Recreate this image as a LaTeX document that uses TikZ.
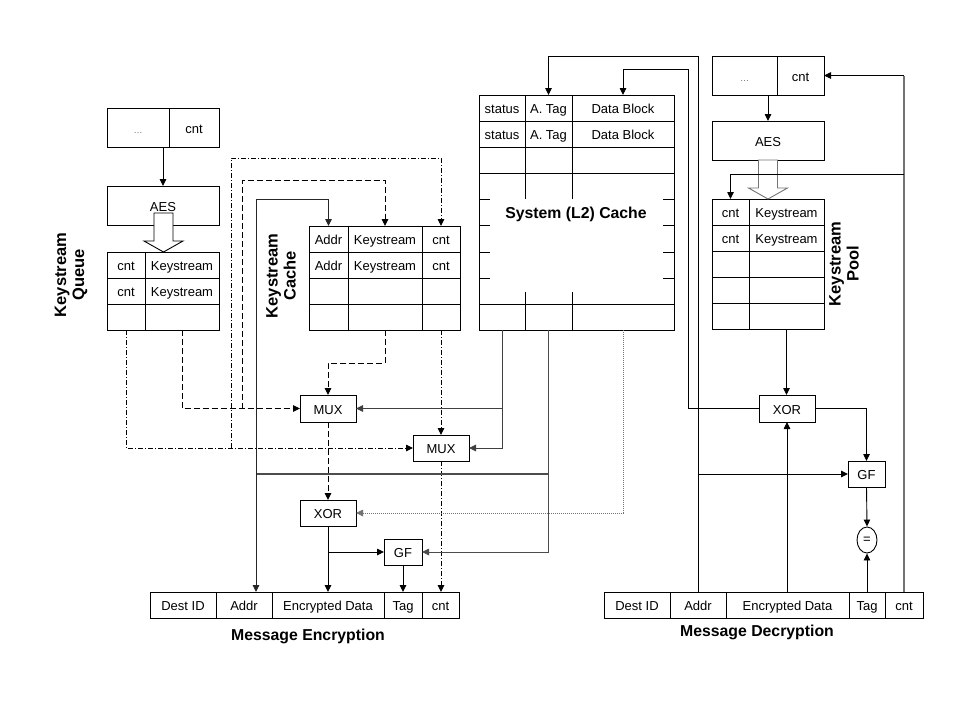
\documentclass[tikz,border=0pt]{standalone}
\usepackage{fontspec}
\setmainfont{Liberation Sans}
\usetikzlibrary{positioning,calc,arrows.meta,shapes.geometric}

\newcommand{\cellfont}{\fontsize{13}{15}\selectfont}
\newcommand{\headfont}{\fontsize{15.8}{19}\selectfont\bfseries}
\newcommand{\dotsfont}{\fontsize{9}{11}\selectfont\color{black!60}}
% hollow arrow from a point inside the source box to the tip
\newcommand{\fatarrow}[3][black]{%
  \draw[#1, fill=white] ($(#2)+(-9.5,0)$) -- ($(#3)+(-9.5,-11)$) -- ($(#3)+(-19.5,-11)$)
    -- (#3) -- ($(#3)+(19.5,-11)$) -- ($(#3)+(9.5,-11)$) -- ($(#2)+(9.5,0)$) -- cycle;}

\tikzset{
  cell/.style={rectangle, draw, anchor=north west, minimum height=26pt, inner sep=0pt, outer sep=0pt, font=\cellfont, text height=11pt, text depth=0pt},
  opbox/.style={rectangle, draw, minimum width=56pt, minimum height=26pt, inner sep=0pt, outer sep=0pt, font=\cellfont, text height=11pt, text depth=0pt},
  connect/.style={-{Triangle[length=7pt,width=6.5pt]}},
  keyline/.style={dash pattern=on 6pt off 3pt},
  cntline/.style={dash pattern=on 5pt off 2pt on 1pt off 2pt},
  dataline/.style={draw=black!55, dash pattern=on 1pt off 1pt},
  busline/.style={draw=black!75, line width=1pt},
  addrline/.style={draw=black!70, line width=1.6pt},
  cntback/.style={draw=black!55, line width=1.6pt},
  titletext/.style={font=\headfont, align=center, inner sep=0pt},
  sidetext/.style={font=\fontsize{16.5}{18}\selectfont\bfseries, align=center, inner sep=0pt, rotate=90}
}

\begin{document}
\begin{tikzpicture}[x=1pt, y=-1pt, line width=0.9pt]
  \useasboundingbox (0,0) rectangle (960,720);

  % Keystream queue: counter, AES and queue table
  \node[cell, minimum width=62pt, minimum height=39pt] (qdots) at (107,108) {\dotsfont\ldots};
  \node[cell, minimum width=50pt, minimum height=39pt] (qcnt) at (169,108) {cnt};
  \node[opbox, minimum width=112pt, minimum height=39pt] (aesq) at (163,205.5) {AES};
  \foreach \r/\y/\a/\b in {1/252/cnt/Keystream, 2/278/cnt/Keystream, 3/304/{}/{}} {
    \node[cell, minimum width=38pt] (qc\r) at (107,\y) {\a};
    \node[cell, minimum width=74pt] (qk\r) at (145,\y) {\b};
  }
  \node[sidetext] (qlabel) at (71,275) {Keystream\\Queue};

  % Keystream cache
  \foreach \r/\y/\a/\b/\c in {1/226/Addr/Keystream/cnt, 2/252/Addr/Keystream/cnt, 3/278/{}/{}/{}, 4/304/{}/{}/{}} {
    \node[cell, minimum width=39pt] (ca\r) at (309,\y) {\a};
    \node[cell, minimum width=74pt] (ck\r) at (348,\y) {\b};
    \node[cell, minimum width=38pt] (cc\r) at (422,\y) {\c};
  }
  \node[sidetext] (clabel) at (281,276) {Keystream\\Cache};

  % System (L2) cache
  \node[draw, anchor=north west, minimum width=195pt, minimum height=235pt, inner sep=0pt, outer sep=0pt] (l2) at (479,95) {};
  \foreach \r/\y/\a/\b/\c in {1/95/status/A. Tag/Data Block, 2/121/status/A. Tag/Data Block, 3/147/{}/{}/{}, 4/304/{}/{}/{}} {
    \node[cell, minimum width=46pt] (ls\r) at (479,\y) {\a};
    \node[cell, minimum width=47pt] (la\r) at (525,\y) {\b};
    \node[cell, minimum width=102pt] (lb\r) at (572,\y) {\c};
  }
  \foreach \x in {525,572} {
    \draw (\x,173) -- (\x,199);
    \draw (\x,292) -- (\x,304);
  }
  \foreach \y in {199,225,252,278} {
    \draw (479,\y) -- (490,\y);
    \draw (663,\y) -- (674,\y);
  }
  \node[titletext] (l2title) at (576,214) {System (L2) Cache};

  % Keystream pool: counter, AES and pool table
  \node[cell, minimum width=65pt, minimum height=39pt] (pdots) at (712,56) {\dotsfont\ldots};
  \node[cell, minimum width=47pt, minimum height=39pt] (pcnt) at (777,56) {cnt};
  \node[opbox, minimum width=112pt, minimum height=39pt] (aesp) at (768,140.5) {AES};
  \foreach \r/\y/\a/\b in {1/199/cnt/Keystream, 2/225/cnt/Keystream, 3/251/{}/{}, 4/277/{}/{}, 5/303/{}/{}} {
    \node[cell, minimum width=37pt] (pc\r) at (712,\y) {\a};
    \node[cell, minimum width=75pt] (pk\r) at (749,\y) {\b};
  }
  \node[sidetext] (plabel) at (844,264) {Keystream\\Pool};

  % operators
  \node[opbox, minimum height=27pt] (mux1) at (328,408.5) {MUX};
  \node[opbox] (mux2) at (441,448) {MUX};
  \node[opbox] (xor1) at (328,513) {XOR};
  \node[opbox, minimum width=38pt] (gf1) at (403,552) {GF};
  \node[opbox, minimum height=27pt] (xor2) at (787,408.5) {XOR};
  \node[opbox, minimum width=37pt] (gf2) at (866.5,474) {GF};
  \node[ellipse, draw, minimum width=20pt, minimum height=26pt, inner sep=0pt, font=\cellfont] (eq) at (867,540) {=};

  % messages
  \foreach \n/\x/\w/\t in {eid/150/66/Dest ID, eaddr/216/56/Addr, eenc/272/112/Encrypted Data, etag/384/38/Tag, ecnt/422/37/cnt}
    \node[cell, minimum width=\w] (\n) at (\x,592) {\t};
  \foreach \n/\x/\w/\t in {did/604/66/Dest ID, daddr/670/56/Addr, denc/726/123/Encrypted Data, dtag/849/36/Tag, dcnt/885/38/cnt}
    \node[cell, minimum width=\w] (\n) at (\x,592) {\t};
  \node[titletext] (etitle) at (308,636) {Message Encryption};
  \node[titletext] (dtitle) at (757,632) {Message Decryption};

  % counters into AES, AES into the tables
  \draw[connect] (aesq.north |- qdots.south) -- (aesq.north);
  \draw[connect] (aesp.north |- pdots.south) -- (aesp.north);
  \coordinate (qfs) at (163.5,213);
  \coordinate (qtip) at (qfs |- qk1.north);
  \fatarrow{qfs}{qtip}
  \coordinate (pfs) at (aesp.south);
  \coordinate (ptip) at (aesp.south |- pk1.north);
  \fatarrow[black!55]{pfs}{ptip}

  % keystream (dashed)
  \draw[keyline, connect] (qk3.south) |- (mux1.west);
  \path (mux1.west) ++(-58,0) coordinate (kq);
  \coordinate (kt) at (242,180);
  \draw[keyline, connect] (kq) -- (kt) -| (ck1.north);
  \draw[keyline, connect] (ck4.south) -- ++(0,33) -| (mux1.north);
  \draw[keyline, connect] (mux1.south) -- (xor1.north);

  % counter (dash dot)
  \draw[cntline, connect] (qc3.south) |- (mux2.west);
  \path (mux2.west) ++(-182,0) coordinate (cq);
  \coordinate (ct) at (231,158);
  \draw[cntline, connect] (cq) -- (ct) -| (cc1.north);
  \draw[cntline, connect] (cc4.south) -- (mux2.north);
  \draw[cntline, connect] (mux2.south) -- (mux2.south |- ecnt.north);

  % hit lines from the system cache
  \draw[busline, connect] (ls4.south) |- (mux2.east);
  \draw[busline, connect] (ls4.south |- mux1.east) -- (mux1.east);

  % address
  \coordinate (ab) at (256,474);
  \coordinate (atop) at (256,199);
  \draw[addrline] (la4.south) -- (la4.south |- gf1.east);
  \draw[black!70, connect] (la4.south |- gf1.east) -- (gf1.east);
  \draw[addrline] (la4.south |- ab) -- (ab);
  \draw[black!85, connect] (ab) -- (ab |- eaddr.north);
  \draw[black!85, connect] (ab) -- (atop) -| (ca1.north);

  % data block (dotted)
  \draw[dataline, connect] (lb4.south) |- (xor1.east);
  \draw[connect] (xor1.south) -- (eenc.north);
  \draw[connect] (xor1.south |- gf1.west) -- (gf1.west);
  \draw[connect] (gf1.south) -- (etag.north);

  % decryption
  \draw[connect] (pk5.south) -- (pk5.south |- xor2.north);
  \draw[connect] (xor2.south |- denc.north) -- (xor2.south);
  \draw[connect] (xor2.east) -| (gf2.north);
  \draw[connect] (gf2.south) -- (eq.north);
  \draw[connect] (dtag.north) -- (eq.south);
  \coordinate (dtop) at (698,56);
  \draw[connect] (daddr.north) -- (dtop) -| (la1.north);
  \draw[connect] (daddr.north |- gf2.west) -- (gf2.west);
  \coordinate (xtop) at (688,69);
  \draw[connect] (xor2.west) -| (xtop) -| (lb1.north);

  % counter back to the pool
  \draw[cntback] (dcnt.north) -- (dcnt.north |- pcnt.east);
  \draw[connect] (dcnt.north |- pcnt.east) -- (pcnt.east);
  \path (dcnt.north) ++(0,-418) coordinate (pbr);
  \draw[connect] (pbr) -| (pc1.north);
\end{tikzpicture}
\end{document}
